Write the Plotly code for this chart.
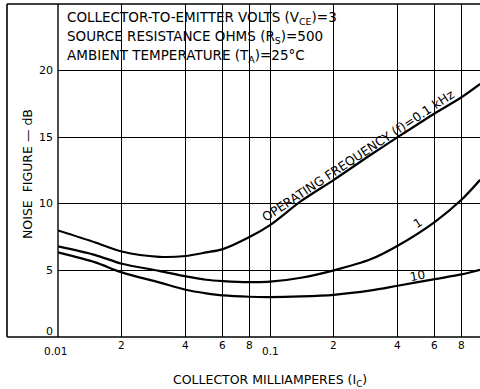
import numpy as np
import plotly.graph_objects as go

# ---- data ----
ic_ma = [0.01, 0.015, 0.02, 0.03, 0.04, 0.05, 0.06, 0.08, 0.1, 0.14, 0.2, 0.3, 0.4, 0.6, 0.8, 0.98]
nf_f01 = [8.0, 7.1, 6.42, 6.02, 6.08, 6.35, 6.6, 7.5, 8.4, 10.2, 11.8, 13.7, 15.0, 16.8, 18.0, 19.0]
nf_f1 = [6.8, 6.15, 5.5, 4.97, 4.55, 4.3, 4.2, 4.12, 4.15, 4.45, 5.0, 5.85, 6.85, 8.65, 10.3, 11.8]
nf_f10 = [6.35, 5.6, 4.85, 4.1, 3.55, 3.28, 3.12, 3.02, 3.0, 3.05, 3.17, 3.5, 3.85, 4.35, 4.7, 5.05]

x_grid_vals = [0.01, 0.02, 0.04, 0.06, 0.08, 0.1, 0.2, 0.4, 0.6, 0.8]
x_tick_vals = [0.01, 0.02, 0.04, 0.06, 0.08, 0.1, 0.2, 0.4, 0.6, 0.8]
x_tick_text = ["0.01", "2", "4", "6", "8", "0.1", "2", "4", "6", "8"]
y_tick_vals = [0, 5, 10, 15, 20]
y_tick_text = ["0", "5", "10", "15", "20"]

box_lines = [
    "COLLECTOR-TO-EMITTER VOLTS (V<sub>CE</sub>)=3",
    "SOURCE RESISTANCE OHMS (R<sub>S</sub>)=500",
    "AMBIENT TEMPERATURE (T<sub>A</sub>)=25°C",
]
curve_labels = ["OPERATING FREQUENCY (f)=0.1 kHz", "1", "10"]

FONT = "DejaVu Sans"
W, H = 480, 389
L, R, T, B = 58, 0, 4, 52
PW, PH = W - L - R, H - T - B


def px(xp):
    return (xp - L) / PW


def py(yp):
    return (H - B - yp) / PH


fig = go.Figure()
for ys in (nf_f01, nf_f1, nf_f10):
    fig.add_trace(go.Scatter(x=ic_ma, y=ys, mode="lines",
                             line=dict(color="black", width=2.2, shape="spline", smoothing=0.8),
                             showlegend=False, hoverinfo="skip"))

shapes = []
# white text box covering grid
shapes.append(dict(type="rect", xref="x", yref="y", x0=np.log10(0.01), x1=np.log10(0.2), y0=20, y1=25,
                   fillcolor="white", line=dict(color="black", width=1.3), layer="above"))
# outer frame
shapes.append(dict(type="line", xref="paper", yref="paper", x0=px(7), x1=px(7), y0=0, y1=1,
                   line=dict(color="black", width=1.6)))
shapes.append(dict(type="line", xref="paper", yref="paper", x0=px(7), x1=1.0, y0=1, y1=1,
                   line=dict(color="black", width=1.6)))
shapes.append(dict(type="line", xref="paper", yref="paper", x0=px(7), x1=1.0, y0=0, y1=0,
                   line=dict(color="black", width=1.6)))
shapes.append(dict(type="line", xref="paper", yref="paper", x0=0, x1=0, y0=0, y1=1,
                   line=dict(color="black", width=1.4)))

ann = []
for i, t in enumerate(box_lines):
    ann.append(dict(text=t, xref="paper", yref="paper", x=px(65), y=py(18 + 19 * i),
                    xanchor="left", yanchor="middle", showarrow=False,
                    font=dict(family=FONT, size=13.5, color="black")))

for v, t in zip(x_tick_vals, x_tick_text):
    decade = t.startswith("0")
    ann.append(dict(text=t, xref="x", yref="paper", x=np.log10(v), y=py(350.5 if decade else 345),
                    xanchor="center", yanchor="middle", showarrow=False,
                    xshift=-3 if t == "0.01" else 0,
                    font=dict(family=FONT, size=10.5, color="black")))

for v, t in zip(y_tick_vals, y_tick_text):
    ann.append(dict(text=t, xref="paper", yref="y", x=px(55), y=v, xanchor="right", yanchor="middle",
                    showarrow=False, yshift=6 if v == 0 else 0,
                    font=dict(family=FONT, size=11, color="black")))

ann.append(dict(text="NOISE  FIGURE — dB", xref="paper", yref="paper", x=px(27), y=py(174),
                textangle=-90, showarrow=False, xanchor="center", yanchor="middle",
                font=dict(family=FONT, size=12.5, color="black")))
ann.append(dict(text="COLLECTOR MILLIAMPERES (I<sub>C</sub>)", xref="paper", yref="paper",
                x=px(270), y=py(380), showarrow=False, xanchor="center", yanchor="middle",
                font=dict(family=FONT, size=12.5, color="black")))
ann.append(dict(text=curve_labels[0], xref="paper", yref="paper",
                x=px(358), y=py(155), textangle=-33.5, showarrow=False, xanchor="center", yanchor="middle",
                font=dict(family=FONT, size=12.5, color="black")))
ann.append(dict(text=curve_labels[1], xref="paper", yref="paper", x=px(418), y=py(223), textangle=-32,
                xanchor="center", yanchor="middle",
                showarrow=False, font=dict(family=FONT, size=12, color="black")))
ann.append(dict(text=curve_labels[2], xref="paper", yref="paper", x=px(417), y=py(276), textangle=-10,
                xanchor="center", yanchor="middle",
                showarrow=False, font=dict(family=FONT, size=12, color="black")))

fig.update_layout(
    width=W, height=H, margin=dict(l=L, r=R, t=T, b=B),
    paper_bgcolor="white", plot_bgcolor="white",
    shapes=shapes, annotations=ann,
    xaxis=dict(type="log", range=[-2, -2 + PW / 212.0], tickvals=x_grid_vals, showticklabels=False,
               showgrid=True, gridcolor="black", gridwidth=1.3, ticks="", zeroline=False,
               showline=False),
    yaxis=dict(range=[0, 25], tickvals=[5, 10, 15, 20], showticklabels=False, showgrid=True,
               gridcolor="black", gridwidth=1.3, ticks="", zeroline=False, showline=False),
)

fig.write_html("out.html", config={"displayModeBar": False},
               post_script="document.body.style.margin='0';document.body.style.overflow='hidden';")
